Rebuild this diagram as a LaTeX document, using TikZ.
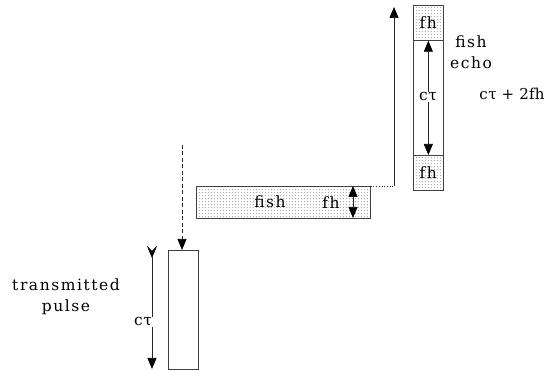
\documentclass[tikz,border=0pt]{standalone}
\usepackage{fontspec}
\setmainfont{DejaVu Serif}[LetterSpace=10]
\usetikzlibrary{arrows.meta,patterns.meta}
\tikzdeclarepattern{
  name=sparsedots,
  type=uncolored,
  bottom left={(0pt,0pt)},
  top right={(3.2pt,3.2pt)},
  tile size={(3.2pt,3.2pt)},
  code={\fill (1.6pt,1.6pt) circle (0.5pt);}
}
\begin{document}
\begin{tikzpicture}[x=1pt,y=-1pt,
  lbl/.style={font=\fontsize{15.5}{21}\selectfont, inner sep=1pt},
  box/.style={draw=black!75, line width=0.7pt, inner sep=0pt, anchor=north west},
  dotbox/.style={box, pattern=sparsedots, pattern color=black!75},
  head/.tip={Triangle[length=11pt,width=9pt,color=black]},
  tail/.tip={Stealth[length=12pt,width=10pt,inset=5pt,reversed,color=black]},
  tip/.style={-head},
  dbl/.style={head-head},
  conn/.style={line width=0.7pt, black!85}]
\useasboundingbox (0,0) rectangle (547,371);

% transmitted pulse
\node[box, minimum width=30pt, minimum height=119pt] (tx) at (168,250) {};
\coordinate (drop) at (182,145);
\draw[conn, dashed, dash pattern=on 4pt off 2.5pt, tip] (drop) -- (drop |- tx.north);
\coordinate (ptop) at (152,246);
\coordinate (pbot) at (152,369);
\draw[conn, tail-head] (ptop) -- (pbot);
\node[lbl, fill=white] (ctpulse) at (143,322) {c\kern0.5pt τ};
\node[lbl, align=center] (txlbl) at (66,297) {transmitted\\pulse};

% fish layer
\node[dotbox, minimum width=174pt, minimum height=32pt] (fish) at (196,186) {};
\node[lbl] (fishname) at (270,202) {fish};
\node[lbl] (fishfh) at (331,203) {fh};
\coordinate (fhtop) at (353,186);
\coordinate (fhbot) at (353,218);
\draw[conn, dbl] (fhtop) -- (fhbot);

% return path
\coordinate (corner) at (394,186);
\coordinate (rtop) at (394,7);
\draw[conn, dotted, line width=0.8pt] (fish.north east) -- (corner);
\draw[conn, tip] (corner) -- (rtop);

% fish echo
\node[box, minimum width=30pt, minimum height=185pt] (echo) at (413,5) {};
\node[dotbox, minimum width=30pt, minimum height=35pt] (fhup) at (413,5) {};
\node[dotbox, minimum width=30pt, minimum height=35pt] (fhlow) at (413,155) {};
\node[lbl] at (fhup.center) {fh};
\node[lbl] at (fhlow.center) {fh};
\draw[conn, dbl] (fhup.south) -- (fhlow.north);
\node[lbl, fill=white] (ctecho) at (428,97) {c\kern0.5pt τ};
\node[lbl, align=center] (echolbl) at (471,52) {fish\\echo};
\node[lbl, font=\fontsize{15}{21}\selectfont\addfontfeatures{LetterSpace=2}] (total) at (512,94) {c\kern0.5pt τ + 2fh};
\end{tikzpicture}
\end{document}
